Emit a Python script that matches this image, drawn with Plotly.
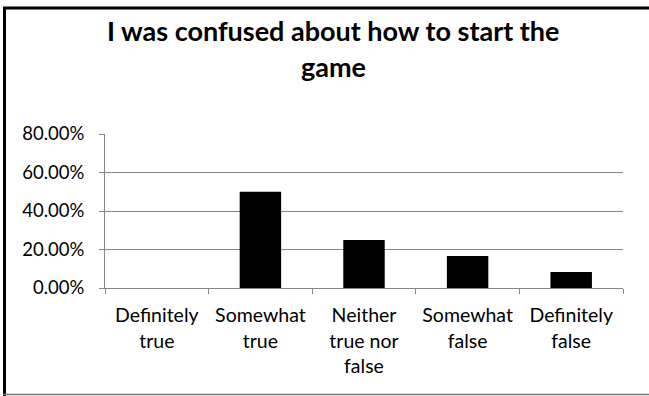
import plotly.graph_objects as go

# Survey responses for the statement, as share of respondents
categories = [
    "Definitely<br>true",
    "Somewhat<br>true",
    "Neither<br>true nor<br>false",
    "Somewhat<br>false",
    "Definitely<br>false",
]
shares = [0.0, 0.50, 0.25, 1 / 6, 1 / 12]
y_ticks = [0.0, 0.2, 0.4, 0.6, 0.8]

title_lines = ["I was confused about how to start the", "game"]

W, H = 649, 396
L, R, T, B = 105, 26, 134, 108
PW, PH = W - L - R, H - T - B


def px_x(px):
    return (px - L) / PW


def px_y(py):
    return (H - B - py) / PH


FONT = "Lato"
GRID = "#868686"

fig = go.Figure(
    go.Bar(
        x=categories,
        y=shares,
        marker=dict(color="#000000", line=dict(width=0)),
        width=0.4,
    )
)

fig.update_layout(
    width=W,
    height=H,
    margin=dict(l=L, r=R, t=T, b=B, pad=0),
    paper_bgcolor="white",
    plot_bgcolor="white",
    showlegend=False,
    font=dict(family=FONT, size=19.5, color="#000000"),
)

fig.update_yaxes(
    range=[0, 0.8],
    tickvals=y_ticks,
    tickformat=".2%",
    tickfont=dict(size=18.5),
    showgrid=True,
    gridcolor=GRID,
    gridwidth=1,
    showline=True,
    linecolor=GRID,
    linewidth=1,
    ticks="outside",
    ticklen=5,
    tickcolor=GRID,
    ticklabelstandoff=11,
    zeroline=False,
)

fig.update_xaxes(
    type="category",
    tickson="boundaries",
    showline=True,
    linecolor=GRID,
    linewidth=1,
    ticks="outside",
    ticklen=5,
    tickcolor=GRID,
    showgrid=False,
    tickangle=0,
    ticklabelstandoff=10,
)

# Two-line chart title
title_centers_px = [30.5, 66]
annotations = []
for text, cy in zip(title_lines, title_centers_px):
    annotations.append(
        dict(
            text=f"<b>{text}</b>",
            xref="paper",
            yref="paper",
            x=px_x(333),
            y=px_y(cy),
            xanchor="center",
            yanchor="middle",
            showarrow=False,
            font=dict(family=FONT, size=27, color="#000000"),
        )
    )
fig.update_layout(annotations=annotations)

# Chart frame
fig.update_layout(
    shapes=[
        dict(type="line", xref="paper", yref="paper",
             x0=px_x(3), x1=px_x(652), y0=px_y(8), y1=px_y(8),
             line=dict(color="#000000", width=3)),
        dict(type="line", xref="paper", yref="paper",
             x0=px_x(4.5), x1=px_x(4.5), y0=px_y(7), y1=px_y(396),
             line=dict(color="#000000", width=3)),
        dict(type="line", xref="paper", yref="paper",
             x0=px_x(3), x1=px_x(652), y0=px_y(394.5), y1=px_y(394.5),
             line=dict(color="#7a7a7a", width=1.5)),
    ]
)

fig.write_html("out.html")
